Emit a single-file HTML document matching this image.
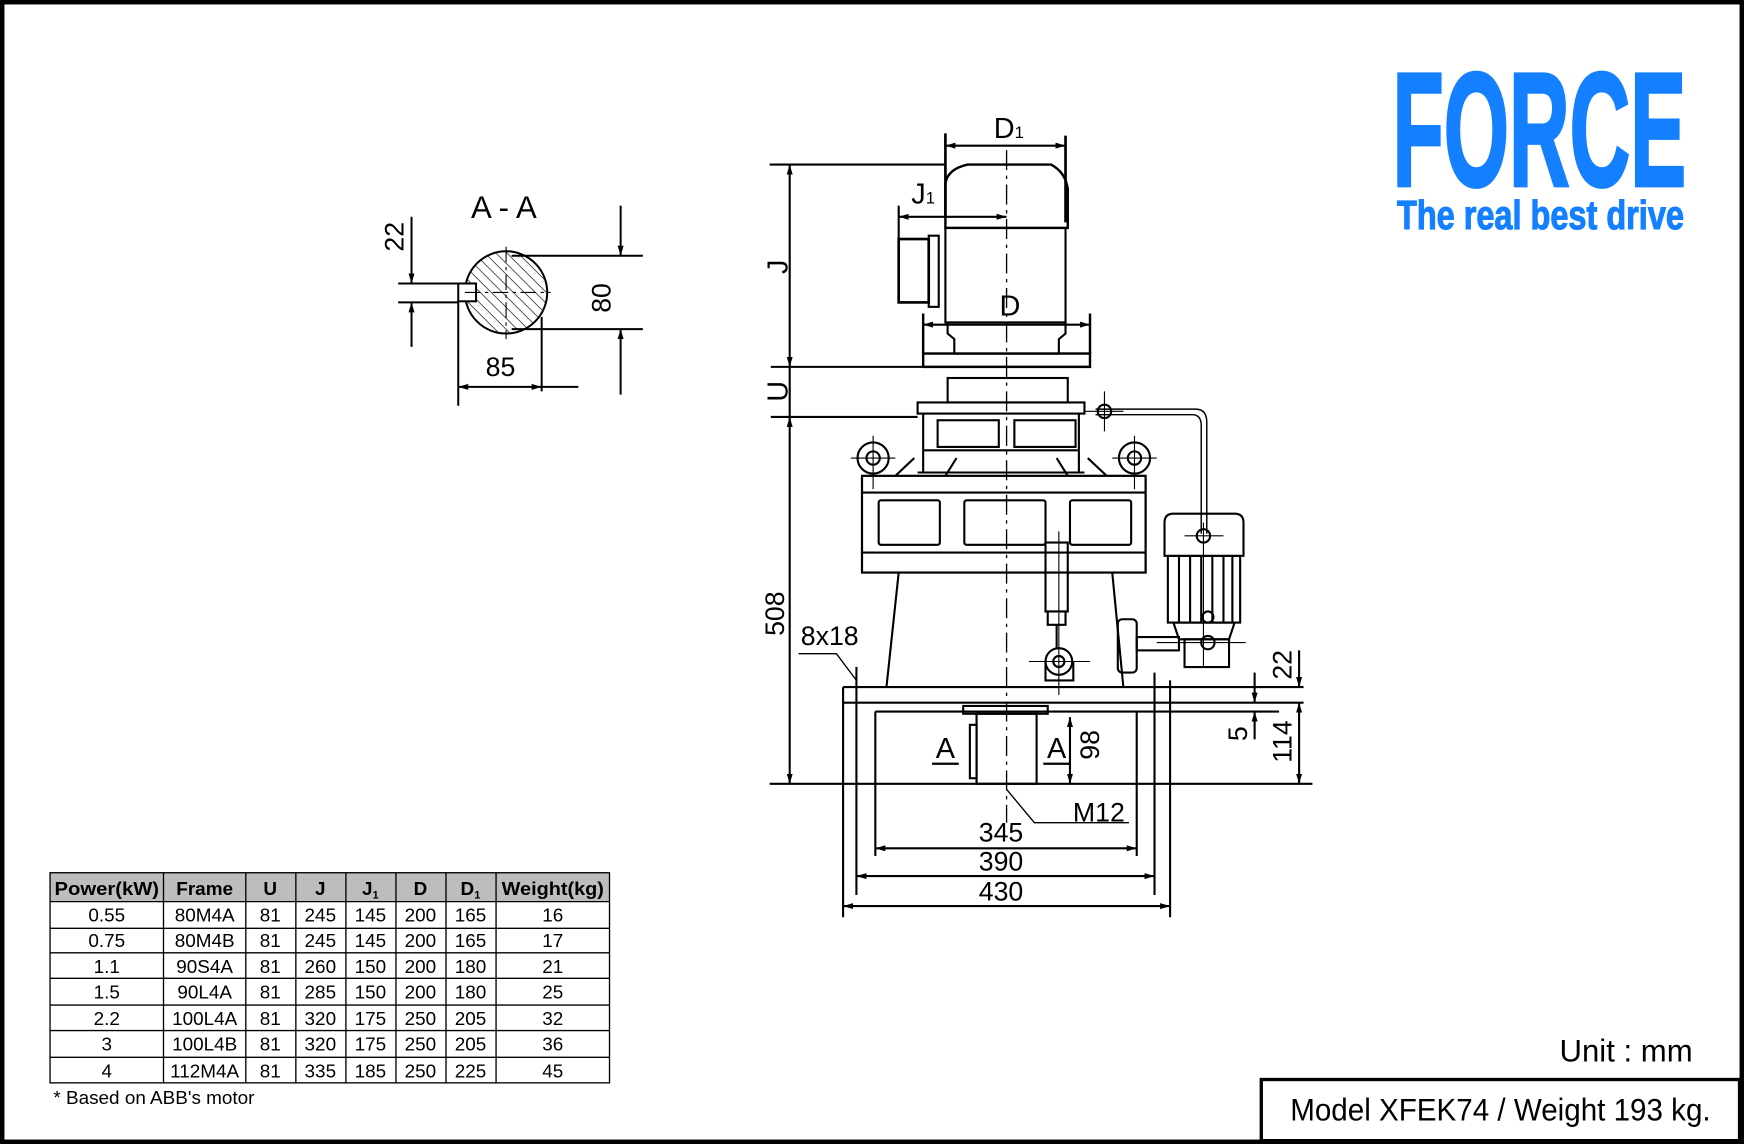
<!DOCTYPE html>
<html><head><style>
html,body{margin:0;padding:0;background:#fff}
svg{display:block}
text{font-family:"Liberation Sans",sans-serif;fill:#000}
</style></head><body>
<svg width="1744" height="1144" viewBox="0 0 1568 1029" preserveAspectRatio="none" xmlns="http://www.w3.org/2000/svg">
<defs>
<marker id="a" viewBox="0 0 10 10" refX="10" refY="5" markerWidth="9" markerHeight="9" orient="auto-start-reverse" markerUnits="userSpaceOnUse"><path d="M0,2 L10,5 L0,8 z" fill="#000"/></marker>
<pattern id="h" width="7" height="7" patternUnits="userSpaceOnUse" patternTransform="rotate(-45)"><line x1="0" y1="0" x2="0" y2="7" stroke="#000" stroke-width="1.2"/></pattern>
</defs>
<rect x="2" y="2" width="1564" height="1025" fill="#fff" stroke="#000" stroke-width="4"/>
<!-- logo -->
<text x="1384" y="167" text-anchor="middle" font-size="146" font-weight="bold" style="fill:#1480ff;stroke:#1480ff;stroke-width:3" textLength="264" lengthAdjust="spacingAndGlyphs">FORCE</text>
<text x="1385" y="206" text-anchor="middle" font-size="37" font-weight="bold" style="fill:#1480ff;stroke:#1480ff;stroke-width:1" textLength="258" lengthAdjust="spacingAndGlyphs">The real best drive</text>
<text x="1462" y="955" text-anchor="middle" font-size="28">Unit : mm</text>
<rect x="1134" y="971" width="430" height="55" fill="#fff" stroke="#000" stroke-width="3"/>
<text x="1349" y="1008" text-anchor="middle" font-size="28" textLength="378" lengthAdjust="spacingAndGlyphs">Model XFEK74 /  Weight 193 kg.</text>

<!-- table -->
<g font-size="17">
<rect x="45" y="785" width="503" height="26" fill="#bdbdbd"/>
<g stroke="#000" stroke-width="1.2" fill="none">
<rect x="45" y="785" width="503" height="189"/>
<line x1="45" y1="811" x2="548" y2="811"/><line x1="45" y1="835" x2="548" y2="835"/><line x1="45" y1="857" x2="548" y2="857"/><line x1="45" y1="880" x2="548" y2="880"/><line x1="45" y1="904" x2="548" y2="904"/><line x1="45" y1="927" x2="548" y2="927"/><line x1="45" y1="951" x2="548" y2="951"/>
<line x1="147" y1="785" x2="147" y2="974"/><line x1="221" y1="785" x2="221" y2="974"/><line x1="266" y1="785" x2="266" y2="974"/><line x1="311" y1="785" x2="311" y2="974"/><line x1="356" y1="785" x2="356" y2="974"/><line x1="401" y1="785" x2="401" y2="974"/><line x1="446" y1="785" x2="446" y2="974"/>
</g>
<g text-anchor="middle" font-weight="bold">
<text x="96" y="805" textLength="94" lengthAdjust="spacingAndGlyphs">Power(kW)</text><text x="184" y="805">Frame</text><text x="243" y="805">U</text><text x="288" y="805">J</text><text x="333" y="805">J<tspan font-size="10" dy="3">1</tspan></text><text x="378" y="805">D</text><text x="423" y="805">D<tspan font-size="10" dy="3">1</tspan></text><text x="497" y="805" textLength="92" lengthAdjust="spacingAndGlyphs">Weight(kg)</text>
</g>
<g text-anchor="middle">
<text x="96" y="829">0.55</text><text x="184" y="829">80M4A</text><text x="243" y="829">81</text><text x="288" y="829">245</text><text x="333" y="829">145</text><text x="378" y="829">200</text><text x="423" y="829">165</text><text x="497" y="829">16</text>
<text x="96" y="852">0.75</text><text x="184" y="852">80M4B</text><text x="243" y="852">81</text><text x="288" y="852">245</text><text x="333" y="852">145</text><text x="378" y="852">200</text><text x="423" y="852">165</text><text x="497" y="852">17</text>
<text x="96" y="875">1.1</text><text x="184" y="875">90S4A</text><text x="243" y="875">81</text><text x="288" y="875">260</text><text x="333" y="875">150</text><text x="378" y="875">200</text><text x="423" y="875">180</text><text x="497" y="875">21</text>
<text x="96" y="898">1.5</text><text x="184" y="898">90L4A</text><text x="243" y="898">81</text><text x="288" y="898">285</text><text x="333" y="898">150</text><text x="378" y="898">200</text><text x="423" y="898">180</text><text x="497" y="898">25</text>
<text x="96" y="922">2.2</text><text x="184" y="922">100L4A</text><text x="243" y="922">81</text><text x="288" y="922">320</text><text x="333" y="922">175</text><text x="378" y="922">250</text><text x="423" y="922">205</text><text x="497" y="922">32</text>
<text x="96" y="945">3</text><text x="184" y="945">100L4B</text><text x="243" y="945">81</text><text x="288" y="945">320</text><text x="333" y="945">175</text><text x="378" y="945">250</text><text x="423" y="945">205</text><text x="497" y="945">36</text>
<text x="96" y="969">4</text><text x="184" y="969">112M4A</text><text x="243" y="969">81</text><text x="288" y="969">335</text><text x="333" y="969">185</text><text x="378" y="969">250</text><text x="423" y="969">225</text><text x="497" y="969">45</text>
</g>
<text x="48" y="993">* Based on ABB's motor</text>
</g>

<!-- A-A section -->
<g stroke="#000" stroke-width="1.8" fill="none">
<circle cx="455" cy="263" r="37" fill="url(#h)"/>
<rect x="412" y="255" width="16" height="16" fill="#fff"/>
<line x1="418" y1="263" x2="495" y2="263" stroke-dasharray="14,4,3,4" stroke-width="1"/>
<line x1="455" y1="222" x2="455" y2="305" stroke-dasharray="14,4,3,4" stroke-width="1"/>
<line x1="358" y1="255" x2="412" y2="255"/><line x1="358" y1="272" x2="412" y2="272"/>
<line x1="370" y1="195" x2="370" y2="255" marker-end="url(#a)"/><line x1="370" y1="312" x2="370" y2="272" marker-end="url(#a)"/>
<line x1="460" y1="230" x2="578" y2="230"/><line x1="460" y1="296" x2="578" y2="296"/>
<line x1="558" y1="185" x2="558" y2="230" marker-end="url(#a)"/><line x1="558" y1="355" x2="558" y2="296" marker-end="url(#a)"/>
<line x1="412" y1="270" x2="412" y2="365"/><line x1="487" y1="285" x2="487" y2="352"/>
<line x1="412" y1="348" x2="487" y2="348" marker-start="url(#a)" marker-end="url(#a)"/><line x1="487" y1="348" x2="520" y2="348"/>
</g>
<text x="453" y="196" text-anchor="middle" font-size="28">A - A</text>
<text x="450" y="338" text-anchor="middle" font-size="24">85</text>
<text transform="translate(363,213) rotate(-90)" text-anchor="middle" font-size="24">22</text>
<text transform="translate(549,268) rotate(-90)" text-anchor="middle" font-size="24">80</text>

<!-- main drawing -->
<g stroke="#000" stroke-width="1.9" fill="none">
<line x1="905" y1="135" x2="905" y2="740" stroke-dasharray="18,5,3,5" stroke-width="1.2"/>
<line x1="850" y1="120" x2="850" y2="195" stroke-width="2.4"/><line x1="958" y1="122" x2="958" y2="200" stroke-width="2.4"/>
<line x1="850" y1="131" x2="958" y2="131" marker-start="url(#a)" marker-end="url(#a)"/>
<path d="M850,205 L850,165 Q852,152 870,148 L945,148 Q958,155 960,170 L960,205 Z" stroke-width="2.2"/>
<rect x="850" y="205" width="108" height="85"/>
<path d="M852,290 L852,300 L858,305 L858,318 L952,318 L952,305 L958,300 L958,290"/>
<rect x="830" y="318" width="150" height="12" stroke-width="2.2"/>
<line x1="830" y1="282" x2="830" y2="318" stroke-width="2.2"/><line x1="980" y1="282" x2="980" y2="318" stroke-width="2.2"/>
<line x1="830" y1="292" x2="980" y2="292" marker-start="url(#a)" marker-end="url(#a)"/>
<line x1="808" y1="185" x2="808" y2="272"/>
<line x1="808" y1="195" x2="905" y2="195" marker-start="url(#a)" marker-end="url(#a)"/>
<rect x="808" y="215" width="27" height="57" stroke-width="2.4"/>
<rect x="835" y="212" width="9" height="64"/>
<line x1="692" y1="148" x2="850" y2="148"/>
<line x1="693" y1="330" x2="980" y2="330"/>
<line x1="693" y1="375" x2="825" y2="375"/>
<line x1="710" y1="148" x2="710" y2="330" marker-start="url(#a)" marker-end="url(#a)"/>
<line x1="710" y1="330" x2="710" y2="375"/>
<line x1="710" y1="375" x2="710" y2="705" marker-start="url(#a)" marker-end="url(#a)"/>
<rect x="852" y="340" width="108" height="22"/>
<rect x="825" y="362" width="150" height="10"/>
<path d="M830,372 L830,425 M970,372 L970,425 M825,425 L975,425"/>
<rect x="843" y="378" width="55" height="24"/><rect x="912" y="378" width="55" height="24"/>
<path d="M830,405 L970,405 M822,412 L805,428 M978,412 L995,428 M860,412 L850,428 M950,412 L960,428"/>
<circle cx="785" cy="412" r="14"/><circle cx="785" cy="412" r="6"/>
<circle cx="1020" cy="412" r="14"/><circle cx="1020" cy="412" r="6"/>
<path d="M765,412 L805,412 M785,392 L785,440 M1000,412 L1040,412 M1020,392 L1020,440" stroke-width="1"/>
<rect x="775" y="428" width="255" height="87" stroke-width="2"/>
<line x1="775" y1="443" x2="1030" y2="443"/>
<line x1="775" y1="497" x2="1030" y2="497"/>
<rect x="790" y="450" width="55" height="40" rx="2"/><rect x="867" y="450" width="73" height="40" rx="2"/><rect x="962" y="450" width="55" height="40" rx="2"/>
<path d="M808,515 L797,618 M1000,515 L1010,618"/>
<line x1="758" y1="618" x2="1172" y2="618"/>
<line x1="758" y1="632" x2="1172" y2="632"/>
<line x1="865" y1="640" x2="1150" y2="640"/>
<line x1="692" y1="705" x2="1180" y2="705"/>
<line x1="758" y1="618" x2="758" y2="825"/><line x1="1052" y1="612" x2="1052" y2="825"/>
<line x1="770" y1="600" x2="770" y2="805"/><line x1="1038" y1="605" x2="1038" y2="805"/>
<line x1="787" y1="640" x2="787" y2="770"/><line x1="1022" y1="640" x2="1022" y2="770"/>
<line x1="787" y1="640" x2="865" y2="640"/>
<rect x="866" y="635" width="76" height="7"/>
<rect x="878" y="642" width="54" height="63"/>
<rect x="872" y="652" width="6" height="48"/>
<line x1="962" y1="645" x2="962" y2="705" marker-start="url(#a)" marker-end="url(#a)"/>
<line x1="1128" y1="605" x2="1128" y2="632" marker-end="url(#a)"/>
<line x1="1128" y1="665" x2="1128" y2="640" marker-end="url(#a)"/>
<line x1="1168" y1="585" x2="1168" y2="618" marker-end="url(#a)"/>
<line x1="1168" y1="632" x2="1168" y2="705" marker-start="url(#a)" marker-end="url(#a)"/>
<path d="M718,588 L752,588 L770,612" stroke-width="1.2"/>
<path d="M905,710 L930,740 L1015,740" stroke-width="1.2"/>
<line x1="787" y1="763" x2="1022" y2="763" marker-start="url(#a)" marker-end="url(#a)"/>
<line x1="770" y1="788" x2="1038" y2="788" marker-start="url(#a)" marker-end="url(#a)"/>
<line x1="758" y1="815" x2="1052" y2="815" marker-start="url(#a)" marker-end="url(#a)"/>
<path d="M985,368 L1075,368 Q1085,368 1085,380 L1085,480 M985,373 L1072,373 Q1080,373 1080,383 L1080,480" stroke-width="1.3"/>
<circle cx="993" cy="370" r="6"/>
<path d="M975,370 L1010,370 M993,352 L993,388" stroke-width="1"/>
<path d="M1047,500 L1047,470 Q1047,462 1055,462 L1110,462 Q1118,462 1118,470 L1118,500 Z"/>
<rect x="1050" y="500" width="65" height="60"/>
<path d="M1060,500 L1060,560 M1070,500 L1070,560 M1080,500 L1080,560 M1090,500 L1090,560 M1100,500 L1100,560 M1108,500 L1108,560"/>
<path d="M1055,560 L1110,560 L1105,575 L1060,575 Z"/>
<rect x="1065" y="575" width="40" height="25"/>
<circle cx="1082" cy="482" r="6"/><circle cx="1086" cy="555" r="5"/><circle cx="1086" cy="578" r="6"/>
<path d="M1065,482 L1100,482 M1082,470 L1082,600 M1040,578 L1120,578" stroke-width="1"/>
<rect x="1005" y="557" width="17" height="48" rx="4"/>
<rect x="1022" y="573" width="38" height="12"/>
<rect x="940" y="488" width="20" height="62"/>
<rect x="942" y="550" width="16" height="12"/>
<line x1="950" y1="562" x2="950" y2="583"/>
<circle cx="952" cy="595" r="12"/><circle cx="952" cy="595" r="5"/>
<path d="M940,595 L940,612 L965,612 L965,595"/>
<path d="M925,595 L980,595 M952,478 L952,625" stroke-width="1"/>
</g>
<g font-size="26">
<text x="907" y="124" text-anchor="middle">D<tspan font-size="15">1</tspan></text>
<text x="830" y="183" text-anchor="middle">J<tspan font-size="15">1</tspan></text>
<text x="908" y="284" text-anchor="middle">D</text>
<text transform="translate(708,240) rotate(-90)" text-anchor="middle">J</text>
<text transform="translate(708,352) rotate(-90)" text-anchor="middle">U</text>
<text transform="translate(705,552) rotate(-90)" text-anchor="middle" font-size="24">508</text>
<text x="746" y="580" text-anchor="middle" font-size="24">8x18</text>
<text x="850" y="682" text-anchor="middle">A</text><line x1="838" y1="687" x2="862" y2="687" stroke="#000" stroke-width="2"/>
<text x="950" y="682" text-anchor="middle">A</text><line x1="938" y1="687" x2="962" y2="687" stroke="#000" stroke-width="2"/>
<text transform="translate(988,670) rotate(-90)" text-anchor="middle" font-size="24">98</text>
<text transform="translate(1161,598) rotate(-90)" text-anchor="middle" font-size="24">22</text>
<text transform="translate(1121,660) rotate(-90)" text-anchor="middle" font-size="24">5</text>
<text transform="translate(1161,667) rotate(-90)" text-anchor="middle" font-size="24">114</text>
<text x="988" y="739" text-anchor="middle" font-size="24">M12</text>
<text x="900" y="757" text-anchor="middle" font-size="24">345</text>
<text x="900" y="783" text-anchor="middle" font-size="24">390</text>
<text x="900" y="810" text-anchor="middle" font-size="24">430</text>
</g>
</svg>
</body></html>
